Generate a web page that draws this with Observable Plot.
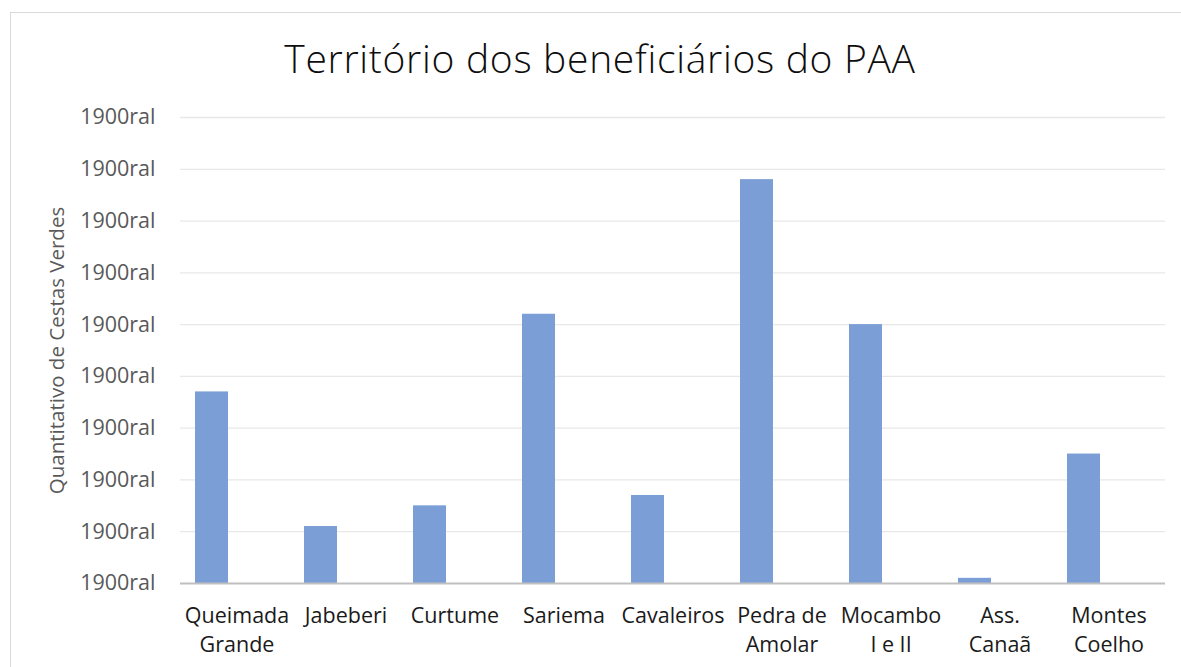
<!DOCTYPE html>
<html>
<head>
<meta charset="utf-8">
<script src="https://cdn.jsdelivr.net/npm/d3@7"></script>
<script src="https://cdn.jsdelivr.net/npm/@observablehq/plot@0.6"></script>
<style>
  html, body { margin: 0; padding: 0; background: #fff; width: 1181px; height: 667px; overflow: hidden; }
  #frame { position: absolute; left: 10px; top: 12px; width: 1200px; height: 700px; border: 1.5px solid #d9d9d9; box-sizing: border-box; }
  #title { position: absolute; left: 0; top: 34px; width: 1200px; text-align: center; font-family: "Open Sans", sans-serif; font-weight: 300; font-size: 39px; letter-spacing: 0.7px; color: #0d0d0d; line-height: 48px; }
  #chart { position: absolute; left: 0; top: 98px; }
</style>
</head>
<body>
<div id="frame"></div>
<div id="title">Território dos beneficiários do PAA</div>
<div id="chart"></div>
<script>
const categories = ["Queimada\nGrande", "Jabeberi", "Curtume", "Sariema", "Cavaleiros", "Pedra de\nAmolar", "Mocambo\nI e II", "Ass.\nCanaã", "Montes\nCoelho"];
const values = [37, 11, 15, 52, 17, 78, 50, 1, 25];
const tickValues = [0, 10, 20, 30, 40, 50, 60, 70, 80, 90];
const tickLabels = ["1900ral", "1900ral", "1900ral", "1900ral", "1900ral", "1900ral", "1900ral", "1900ral", "1900ral", "1900ral"];
const yTitle = "Quantitativo de Cestas Verdes";

const data = categories.map((c, i) => ({name: c, value: values[i]}));

const chart = Plot.plot({
  width: 1181,
  height: 569,
  marginLeft: 180,
  marginRight: 16,
  marginTop: 19,
  marginBottom: 84,
  style: {fontFamily: "'Open Sans', sans-serif", fontSize: "21px", background: "transparent"},
  x: {type: "band", domain: categories, padding: 0, axis: null},
  y: {domain: [0, 90], axis: null},
  marks: [
    Plot.ruleY(tickValues.slice(1), {stroke: "#e8e8e8", strokeWidth: 1.3}),
    Plot.barY(data, {x: "name", y: "value", fill: "#7a9ed5", insetLeft: 13, insetRight: 63}),
    Plot.ruleY([0], {stroke: "#bfbfbf", strokeWidth: 2.2}),
    Plot.axisY({ticks: tickValues, tickFormat: (d, i) => tickLabels[i], tickSize: 0, tickPadding: 25, fill: "#595959", label: null, fontSize: 21.5}),
    Plot.text(categories, {x: d => d, frameAnchor: "bottom", lineAnchor: "top", dy: 19.5, lineHeight: 1.32, fill: "#1a1a1a", fontSize: 21.5}),
    Plot.text([yTitle], {frameAnchor: "left", textAnchor: "middle", rotate: -90, dx: -123, fill: "#595959", fontSize: 20.5})
  ]
});
document.getElementById("chart").appendChild(chart);
</script>
</body>
</html>
